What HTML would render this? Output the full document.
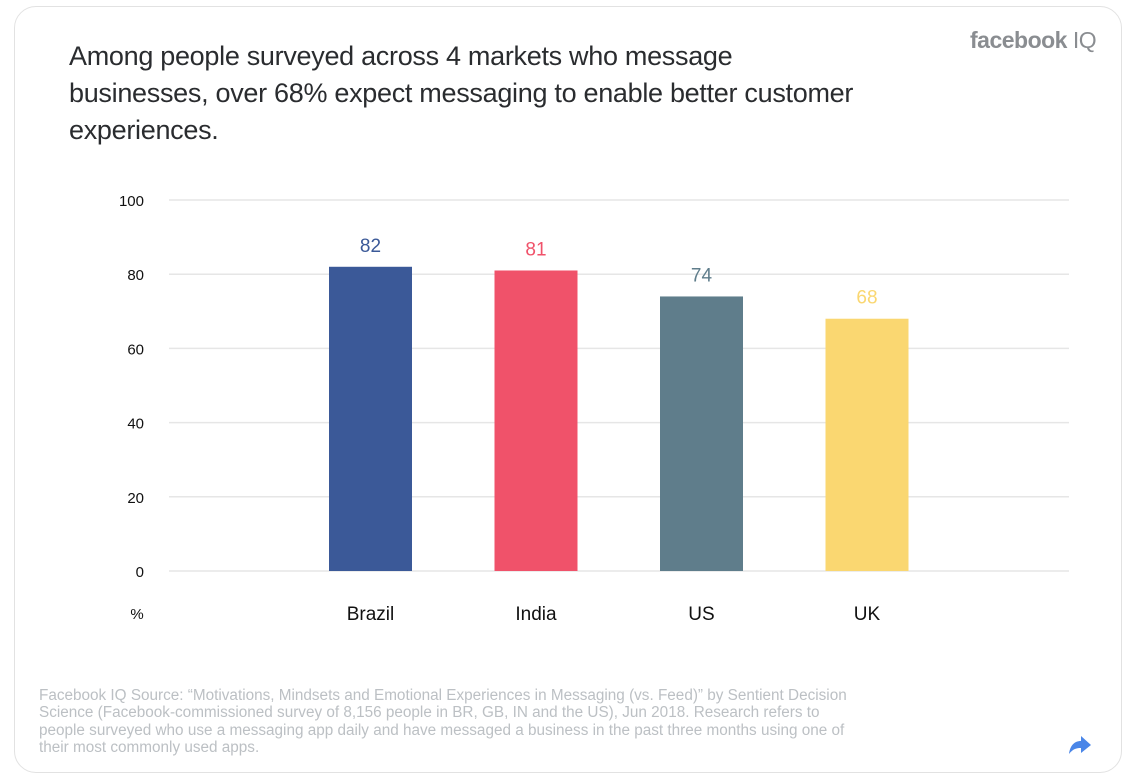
<!DOCTYPE html>
<html><head><meta charset="utf-8"><style>
html,body{margin:0;padding:0;background:#fff;width:1132px;height:779px;overflow:hidden;font-family:"Liberation Sans",sans-serif}
#card{position:absolute;left:14px;top:6px;width:1108px;height:767px;border:1px solid #e2e2e2;border-radius:22px;box-sizing:border-box}
#title{position:absolute;left:69px;top:38px;width:900px;font-size:27px;line-height:37px;color:#2a2c2f;font-weight:normal;letter-spacing:-0.3px;white-space:nowrap}
#logo{position:absolute;left:970px;top:27px;font-size:23px;color:#8a8d91;font-weight:bold;letter-spacing:-0.5px}
#logo span{font-weight:normal}
#foot{position:absolute;left:39px;top:687px;width:900px;font-size:15.3px;line-height:17.3px;color:#bcc0c4;white-space:nowrap}
svg{position:absolute;left:0;top:0}
</style></head><body>
<div id="card"></div>
<div id="title">Among people surveyed across 4 markets who message<br>businesses, over 68% expect messaging to enable better customer<br>experiences.</div>
<div id="logo">facebook <span>IQ</span></div>
<div id="foot">Facebook IQ Source: “Motivations, Mindsets and Emotional Experiences in Messaging (vs. Feed)” by Sentient Decision<br>Science (Facebook-commissioned survey of 8,156 people in BR, GB, IN and the US), Jun 2018. Research refers to<br>people surveyed who use a messaging app daily and have messaged a business in the past three months using one of<br>their most commonly used apps.</div>
<svg id="chart" width="1132" height="779">
<path d="M1091 745 L1081 736 L1081 741 C1074 741 1070 746 1069 754 C1073 749 1076 748 1081 748 L1081 753 Z" fill="#4a86e8"/>
</svg>
<script>
const categories=["Brazil","India","US","UK"];
const values=[82,81,74,68];
const colors=["#3b5998","#f0526a","#5f7d8b","#fad771"];
const ticks=[0,20,40,60,80,100];
const NS="http://www.w3.org/2000/svg";
const svg=document.getElementById('chart');
const y=v=>571-v*3.71;
const x=i=>370.5+i*165.5;
function mk(t,a,txt){const e=document.createElementNS(NS,t);for(const k in a)e.setAttribute(k,a[k]);if(txt!==undefined)e.textContent=txt;svg.appendChild(e);return e;}
ticks.forEach(t=>{
 const l=mk('line',{x1:169,x2:1069,y1:y(t),y2:y(t),stroke:'#e6e6e6','stroke-width':1.5});
 
 
 const tx=mk('text',{x:144,y:y(t)+6,'text-anchor':'end','font-size':15,fill:'#111'},t);
 
 
});
const u=mk('text',{x:137,y:619,'text-anchor':'middle','font-size':15,fill:'#111'},'%');


categories.forEach((c,i)=>{
 const r=mk('rect',{x:x(i)-41.5,y:y(values[i]),width:83,height:y(0)-y(values[i]),fill:colors[i]});
 
 
 const v=mk('text',{x:x(i),y:y(values[i])-15,'text-anchor':'middle','font-size':19,fill:colors[i]},values[i]);
 
 
 const lb=mk('text',{x:x(i),y:620,'text-anchor':'middle','font-size':19,fill:'#111'},c);
 
 
});
</script>
</body></html>
